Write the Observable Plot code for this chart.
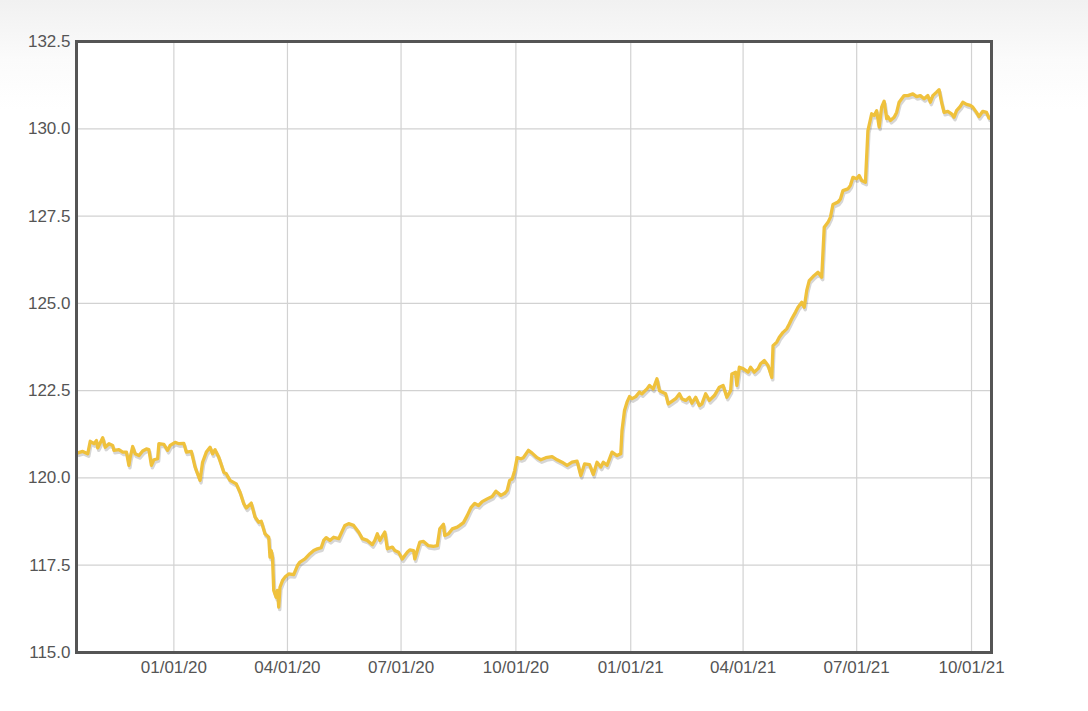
<!DOCTYPE html>
<html>
<head>
<meta charset="utf-8">
<script src="https://cdn.jsdelivr.net/npm/d3@7"></script>
<script src="https://cdn.jsdelivr.net/npm/@observablehq/plot@0.6"></script>
<style>
  html, body { margin: 0; padding: 0; }
  body {
    width: 1088px; height: 711px; overflow: hidden;
    background: linear-gradient(to bottom, #f1f1f1 0px, #fbfbfb 60px, #ffffff 110px);
    font-family: "Liberation Sans", Arial, sans-serif;
  }
</style>
</head>
<body>
<div id="chart"></div>
<script>
const dates = [
  "2019-10-16","2019-10-20","2019-10-24","2019-10-26","2019-10-29","2019-10-31","2019-11-01","2019-11-05","2019-11-07","2019-11-10",
  "2019-11-13","2019-11-14","2019-11-18","2019-11-21","2019-11-24","2019-11-26","2019-11-27","2019-11-29","2019-12-01","2019-12-04",
  "2019-12-07","2019-12-10","2019-12-12","2019-12-14","2019-12-16","2019-12-19","2019-12-20","2019-12-24","2019-12-27","2019-12-29",
  "2020-01-02","2020-01-05","2020-01-09","2020-01-11","2020-01-15","2020-01-18","2020-01-22","2020-01-24","2020-01-27","2020-01-30",
  "2020-02-01","2020-02-03","2020-02-06","2020-02-10","2020-02-12","2020-02-15","2020-02-20","2020-02-23","2020-02-26","2020-02-28",
  "2020-03-03","2020-03-06","2020-03-09","2020-03-11","2020-03-14","2020-03-17","2020-03-18","2020-03-19","2020-03-20","2020-03-21",
  "2020-03-23","2020-03-24","2020-03-25","2020-03-26","2020-03-28","2020-03-30","2020-04-02","2020-04-06","2020-04-09","2020-04-11",
  "2020-04-15","2020-04-19","2020-04-22","2020-04-25","2020-04-28","2020-04-30","2020-05-02","2020-05-05","2020-05-08","2020-05-12",
  "2020-05-15","2020-05-17","2020-05-20","2020-05-24","2020-05-28","2020-05-31","2020-06-04","2020-06-08","2020-06-10","2020-06-12",
  "2020-06-14","2020-06-18","2020-06-20","2020-06-24","2020-06-26","2020-06-29","2020-07-02","2020-07-04","2020-07-06","2020-07-08",
  "2020-07-11","2020-07-12","2020-07-14","2020-07-16","2020-07-19","2020-07-23","2020-07-27","2020-07-30","2020-08-01","2020-08-04",
  "2020-08-05","2020-08-08","2020-08-11","2020-08-15","2020-08-17","2020-08-20","2020-08-23","2020-08-26","2020-08-29","2020-09-01",
  "2020-09-04","2020-09-08","2020-09-12","2020-09-15","2020-09-19","2020-09-22","2020-09-24","2020-09-26","2020-09-28","2020-09-30",
  "2020-10-02","2020-10-05","2020-10-07","2020-10-11","2020-10-14","2020-10-18","2020-10-21","2020-10-25","2020-10-30","2020-11-03",
  "2020-11-07","2020-11-11","2020-11-15","2020-11-19","2020-11-22","2020-11-25","2020-11-29","2020-12-02","2020-12-05","2020-12-08",
  "2020-12-10","2020-12-13","2020-12-17","2020-12-21","2020-12-24","2020-12-25","2020-12-27","2020-12-29","2020-12-31","2021-01-02",
  "2021-01-05","2021-01-08","2021-01-10","2021-01-14","2021-01-16","2021-01-19","2021-01-22","2021-01-24","2021-01-26","2021-01-29",
  "2021-01-31","2021-02-04","2021-02-06","2021-02-09","2021-02-11","2021-02-14","2021-02-17","2021-02-19","2021-02-22","2021-02-25",
  "2021-02-27","2021-03-02","2021-03-05","2021-03-09","2021-03-13","2021-03-16","2021-03-19","2021-03-22","2021-03-23","2021-03-26",
  "2021-03-27","2021-03-29","2021-04-01","2021-04-05","2021-04-07","2021-04-10","2021-04-13","2021-04-15","2021-04-18","2021-04-21",
  "2021-04-24","2021-04-25","2021-04-28","2021-04-30","2021-05-03","2021-05-06","2021-05-08","2021-05-10","2021-05-13","2021-05-15",
  "2021-05-18","2021-05-20","2021-05-22","2021-05-24","2021-05-28","2021-05-31","2021-06-03","2021-06-05","2021-06-08","2021-06-10",
  "2021-06-12","2021-06-16","2021-06-18","2021-06-20","2021-06-24","2021-06-26","2021-06-28","2021-07-01","2021-07-03","2021-07-05",
  "2021-07-08","2021-07-10","2021-07-13","2021-07-15","2021-07-17","2021-07-19","2021-07-21","2021-07-23","2021-07-25","2021-07-26",
  "2021-07-28","2021-07-31","2021-08-02","2021-08-04","2021-08-08","2021-08-11","2021-08-15","2021-08-18","2021-08-21","2021-08-24",
  "2021-08-27","2021-08-29","2021-08-31","2021-09-03","2021-09-05","2021-09-07","2021-09-09","2021-09-12","2021-09-15","2021-09-17",
  "2021-09-19","2021-09-22","2021-09-24","2021-09-27","2021-09-30","2021-10-02","2021-10-05","2021-10-07","2021-10-10","2021-10-13","2021-10-15","2021-10-17"
];
const values = [
  120.72,120.76,120.69,121.05,120.98,121.07,120.86,121.15,120.88,120.98,
  120.93,120.79,120.81,120.74,120.74,120.36,120.59,120.90,120.69,120.64,
  120.77,120.83,120.81,120.36,120.52,120.55,120.98,120.96,120.79,120.93,
  121.02,120.98,120.99,120.74,120.76,120.31,119.93,120.45,120.74,120.88,
  120.69,120.81,120.59,120.16,120.12,119.93,119.83,119.59,119.26,119.14,
  119.28,118.88,118.73,118.76,118.40,118.30,117.73,117.92,117.73,116.78,
  116.58,116.78,116.30,116.87,117.06,117.16,117.25,117.23,117.49,117.59,
  117.68,117.83,117.92,117.97,118.00,118.21,118.29,118.21,118.30,118.26,
  118.49,118.64,118.69,118.64,118.45,118.26,118.21,118.09,118.21,118.40,
  118.21,118.45,117.97,118.02,117.92,117.87,117.68,117.78,117.87,117.94,
  117.92,117.68,117.92,118.16,118.18,118.06,118.04,118.06,118.54,118.67,
  118.35,118.40,118.54,118.59,118.64,118.72,118.92,119.15,119.27,119.21,
  119.32,119.40,119.47,119.62,119.50,119.56,119.64,119.93,119.97,120.21,
  120.58,120.55,120.58,120.79,120.71,120.58,120.52,120.58,120.61,120.52,
  120.45,120.36,120.45,120.48,120.07,120.40,120.38,120.10,120.45,120.31,
  120.45,120.36,120.74,120.64,120.69,121.36,121.93,122.17,122.33,122.27,
  122.33,122.46,122.41,122.55,122.65,122.55,122.84,122.50,122.46,122.41,
  122.12,122.22,122.27,122.41,122.27,122.22,122.31,122.14,122.31,122.07,
  122.12,122.41,122.22,122.36,122.60,122.65,122.31,122.50,122.98,123.03,
  122.65,123.17,123.13,123.03,123.17,123.03,123.13,123.27,123.36,123.22,
  122.88,123.79,123.89,124.03,124.17,124.27,124.41,124.56,124.75,124.89,
  125.03,124.89,125.37,125.65,125.80,125.89,125.75,127.18,127.32,127.47,
  127.83,127.90,127.99,128.23,128.28,128.38,128.61,128.57,128.66,128.52,
  128.47,129.95,130.43,130.38,130.52,130.05,130.62,130.79,130.29,130.35,
  130.24,130.33,130.47,130.76,130.95,130.95,131.00,130.92,130.95,130.86,
  130.95,130.76,130.95,131.05,131.12,130.76,130.47,130.50,130.43,130.33,
  130.52,130.64,130.76,130.70,130.67,130.62,130.47,130.35,130.50,130.47,130.31,130.28
];
const xTickDates = ["2020-01-01","2020-04-01","2020-07-01","2020-10-01","2021-01-01","2021-04-01","2021-07-01","2021-10-01"];
const yTickValues = [115, 117.5, 120, 122.5, 125, 127.5, 130, 132.5];
const xDomainDates = ["2019-10-15", "2021-10-17"];
const yDomainValues = [115, 132.5];

const data = dates.map((d, i) => ({date: new Date(d), value: values[i]}));
const xTicks = xTickDates.map(d => new Date(d));
const fmt = d3.utcFormat("%m/%d/%y");

const chart = Plot.plot({
  width: 1088,
  height: 711,
  marginLeft: 76,
  marginRight: 97,
  marginTop: 41,
  marginBottom: 59,
  style: {background: "transparent", fontFamily: "'Liberation Sans', Arial, sans-serif", fontSize: "17px", color: "#555"},
  x: {type: "utc", domain: xDomainDates.map(d => new Date(d))},
  y: {domain: yDomainValues},
  marks: [
    Plot.frame({fill: "white", stroke: "none"}),
    Plot.gridX(xTicks, {stroke: "#d2d2d2", strokeOpacity: 1, strokeWidth: 1.2}),
    Plot.gridY(yTickValues.slice(1, -1), {stroke: "#d2d2d2", strokeOpacity: 1, strokeWidth: 1.2}),
    Plot.axisX(xTicks, {tickSize: 0, tickPadding: 8, tickFormat: fmt, fontSize: 17, fill: "#555", label: null}),
    Plot.axisY(yTickValues, {tickSize: 0, tickPadding: 6, tickFormat: d => d.toFixed(1), fontSize: 17, fill: "#555", label: null}),
    Plot.line(data, {x: "date", y: "value", stroke: "#000", strokeOpacity: 0.16, strokeWidth: 3.4, dx: 1, dy: 2.5, clip: true}),
    Plot.line(data, {x: "date", y: "value", stroke: "#efc13c", strokeWidth: 3.3, clip: true}),
    Plot.frame({stroke: "#555", strokeWidth: 3})
  ]
});
document.getElementById("chart").appendChild(chart);
</script>
</body>
</html>
